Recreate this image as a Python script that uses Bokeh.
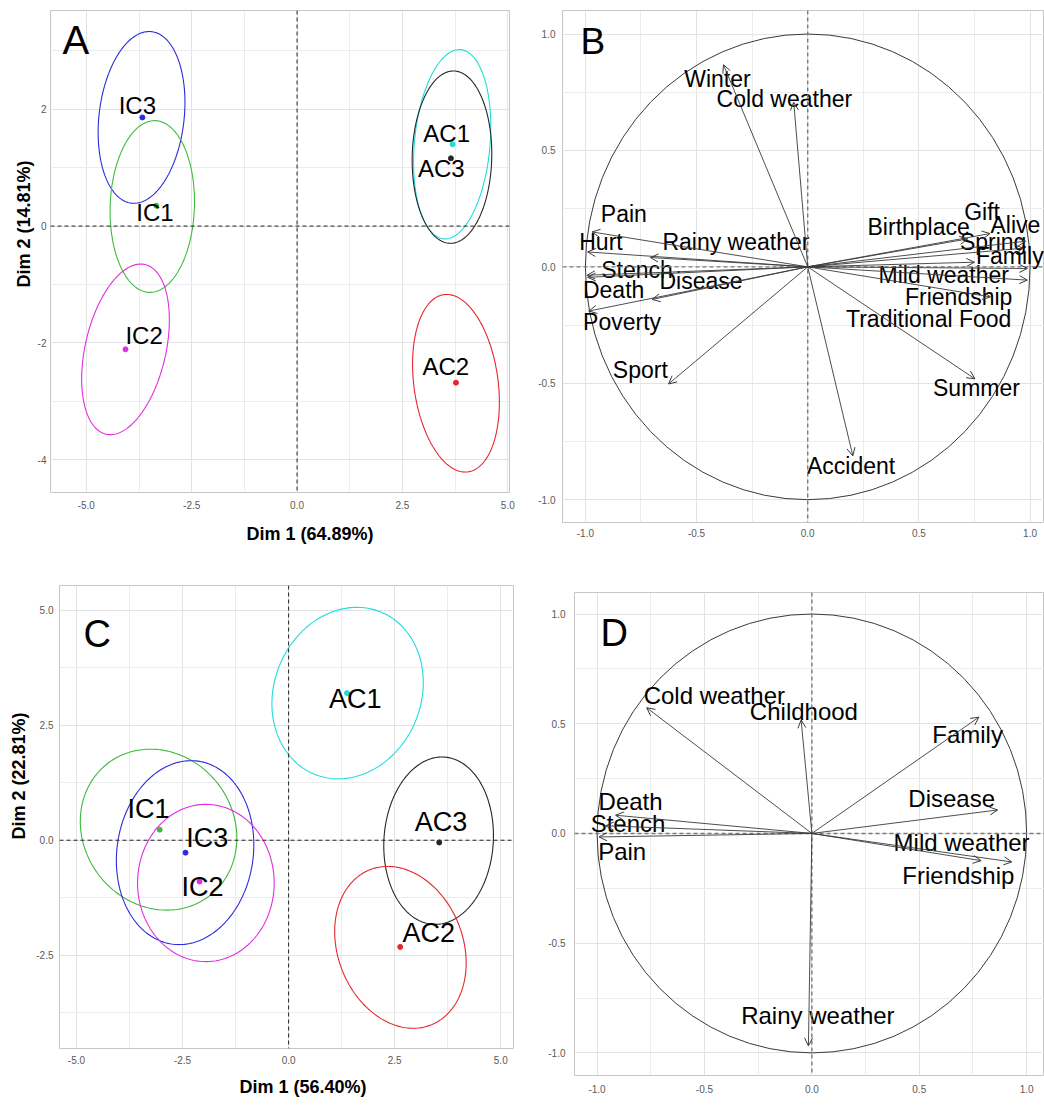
import numpy as np
from bokeh.plotting import figure
from bokeh.layouts import row, column
from bokeh.models import (ColumnDataSource, Span, Label, Title, Arrow, OpenHead,
                          FixedTicker, Range1d)
from bokeh.embed import file_html
from bokeh.resources import INLINE
from bokeh.core.properties import value

# ------------------------------------------------------------------ data
group_colors = {"AC1": "#1FDCDC", "AC2": "#E8262B", "AC3": "#262626",
                "IC1": "#3CBB3C", "IC2": "#E22DE2", "IC3": "#2B2BDD"}

# Panel A: individuals (Dim 1 64.89 %, Dim 2 14.81 %)
a_groups = ["IC3", "IC1", "IC2", "AC1", "AC3", "AC2"]
a_x = [-3.67, -3.34, -4.07, 3.69, 3.65, 3.77]
a_y = [1.86, 0.35, -2.11, 1.40, 1.16, -2.68]
a_label_x = [-3.79, -3.37, -3.63, 3.55, 3.42, 3.53]
a_label_y = [2.07, 0.23, -1.87, 1.58, 0.99, -2.40]
a_ell_cx = [-3.69, -3.435, -4.07, 3.68, 3.675, 3.77]
a_ell_cy = [1.86, 0.335, -2.11, 1.40, 1.18, -2.69]
a_ell_hx = [1.014, 1.0, 0.976, 0.90, 0.944, 1.006]
a_ell_hy = [1.47, 1.47, 1.46, 1.62, 1.475, 1.52]
a_ell_tilt = [0.18, 0.055, 0.36, 0.17, 0.035, -0.22]

# Panel C: individuals (Dim 1 56.40 %, Dim 2 22.81 %)
c_groups = ["AC1", "IC1", "IC3", "IC2", "AC3", "AC2"]
c_x = [1.375, -3.04, -2.43, -2.10, 3.55, 2.63]
c_y = [3.20, 0.23, -0.27, -0.90, -0.05, -2.32]
c_label_x = [1.57, -3.30, -1.92, -2.03, 3.59, 3.30]
c_label_y = [3.08, 0.67, 0.04, -1.01, 0.40, -2.02]
c_ell_cx = [1.39, -3.065, -2.44, -1.95, 3.535, 2.635]
c_ell_cy = [3.20, 0.23, -0.27, -0.93, -0.01, -2.33]
c_ell_hx = [1.77, 1.835, 1.614, 1.61, 1.29, 1.52]
c_ell_hy = [1.865, 1.75, 2.0, 1.71, 1.82, 1.76]
c_ell_tilt = [0.22, -0.19, 0.14, 0.0, 0.08, -0.30]

# Panel B: variables
b_vars = ["Winter", "Cold weather", "Pain", "Hurt", "Rainy weather", "Stench",
          "Death", "Disease", "Poverty", "Sport", "Gift", "Birthplace", "Alive",
          "Spring", "Family", "Mild weather", "Friendship", "Traditional Food",
          "Summer", "Accident"]
b_x = [-0.379, -0.063, -0.97, -0.99, -0.708, -0.993, -0.99, -0.70, -0.985, -0.626,
       0.82, 0.72, 0.98, 0.97, 0.988, 0.988, 0.822, 0.75, 0.752, 0.203]
b_y = [0.868, 0.707, 0.15, 0.064, 0.04, -0.036, -0.045, -0.14, -0.19, -0.503,
       0.143, 0.12, 0.11, 0.08, -0.007, -0.057, -0.129, 0.02, -0.481, -0.812]
b_label_x = [-0.406, -0.105, -0.827, -0.93, -0.323, -0.768, -0.873, -0.48, -0.835,
             -0.753, 0.784, 0.499, 0.934, 0.834, 0.909, 0.612, 0.679, 0.544, 0.759, 0.195]
b_label_y = [0.805, 0.722, 0.226, 0.107, 0.108, -0.015, -0.10, -0.062, -0.238,
             -0.443, 0.235, 0.171, 0.178, 0.107, 0.045, -0.036, -0.129, -0.226,
             -0.519, -0.857]

# Panel D: variables
d_vars = ["Cold weather", "Childhood", "Family", "Disease", "Mild weather",
          "Friendship", "Rainy weather", "Death", "Stench", "Pain"]
d_x = [-0.769, -0.05, 0.778, 0.865, 0.931, 0.788, -0.016, -0.914, -0.96, -0.991]
d_y = [0.573, 0.517, 0.53, 0.107, -0.13, -0.124, -0.968, 0.083, 0.035, -0.016]
d_label_x = [-0.454, -0.037, 0.725, 0.651, 0.697, 0.682, 0.028, -0.844, -0.856, -0.883]
d_label_y = [0.629, 0.557, 0.45, 0.159, -0.04, -0.191, -0.828, 0.146, 0.045, -0.08]

# ticks
ind_x_ticks = [-5.0, -2.5, 0.0, 2.5, 5.0]
ind_x_labels = ["-5.0", "-2.5", "0.0", "2.5", "5.0"]
ind_x_minor = [-3.75, -1.25, 1.25, 3.75]
a_y_ticks = [-4, -2, 0, 2]
a_y_labels = ["-4", "-2", "0", "2"]
a_y_minor = [-3, -1, 1, 3]
c_y_ticks = [-2.5, 0.0, 2.5, 5.0]
c_y_labels = ["-2.5", "0.0", "2.5", "5.0"]
c_y_minor = [-3.75, -1.25, 1.25, 3.75]
var_ticks = [-1.0, -0.5, 0.0, 0.5, 1.0]
var_labels = ["-1.0", "-0.5", "0.0", "0.5", "1.0"]
var_minor = [-0.75, -0.25, 0.25, 0.75]

FONT = "Liberation Sans"


# ------------------------------------------------------------------ helpers
def base_fig(width, height, xr, yr, mb, xt, xl, xm, yt, yl, ym, xstand, ystand):
    p = figure(width=width, height=height, x_range=Range1d(*xr), y_range=Range1d(*yr),
               output_backend="svg", toolbar_location=None, tools="",
               min_border_left=mb[0], min_border_right=mb[1],
               min_border_top=mb[2], min_border_bottom=mb[3])
    p.background_fill_color = "white"
    p.border_fill_color = "white"
    p.outline_line_color = "#C6C6C6"
    p.outline_line_width = 1
    for ax, t, l, m, st in ((p.xaxis[0], xt, xl, xm, xstand), (p.yaxis[0], yt, yl, ym, ystand)):
        ax.ticker = FixedTicker(ticks=t, minor_ticks=m)
        ax.major_label_overrides = dict(zip(t, l))
        ax.axis_line_color = None
        ax.major_tick_line_color = None
        ax.minor_tick_line_color = None
        ax.major_tick_out = 0
        ax.minor_tick_out = 0
        ax.major_label_standoff = st
        ax.major_label_text_font = FONT
        ax.major_label_text_font_size = "10px"
        ax.major_label_text_color = "#5A5A5A"
    for g in (p.xgrid[0], p.ygrid[0]):
        g.grid_line_color = "#E3E3E3"
        g.minor_grid_line_color = "#ECECEC"
    return p


def add_letter(p, txt, x, y, size):
    p.add_layout(Label(x=x, y=y, x_units="screen", y_units="screen", text=txt,
                       text_font=FONT, text_font_size=size, text_color="black",
                       text_baseline="alphabetic", text_align="left"))


def add_titles(p, xt, xoff, xstand, yt, yoff, ystand):
    p.add_layout(Title(text=xt, align="left", offset=xoff, standoff=xstand,
                       text_font=FONT, text_font_size="18px", text_font_style="bold",
                       text_color="black"), "below")
    p.add_layout(Title(text=yt, align="left", offset=yoff, standoff=ystand,
                       text_font=FONT, text_font_size="18px", text_font_style="bold",
                       text_color="black"), "left")


def ind_panel(p, groups, xs, ys, lx, ly, ecx, ecy, ehx, ehy, etilt, fsize):
    t = np.linspace(0, 2 * np.pi, 240)
    exs, eys = [], []
    for cx, cy, hx, hy, s in zip(ecx, ecy, ehx, ehy, etilt):
        exs.append(list(cx + hx * np.cos(t) + s * np.sin(t)))
        eys.append(list(cy + hy * np.sin(t)))
    cols = [group_colors[g] for g in groups]
    p.multi_line(xs="xs", ys="ys", line_color="c", line_width=1.1,
                 source=ColumnDataSource(dict(xs=exs, ys=eys, c=cols)))
    p.add_layout(Span(location=0, dimension="height", line_color="#222222",
                      line_dash="4 3", line_width=1))
    p.add_layout(Span(location=0, dimension="width", line_color="#222222",
                      line_dash="4 3", line_width=1))
    src = ColumnDataSource(dict(x=xs, y=ys, lx=lx, ly=ly, g=groups, c=cols))
    p.scatter(x="x", y="y", size=5, fill_color="c", line_color="c", source=src)
    p.text(x="lx", y="ly", text="g", source=src, text_font=value(FONT),
           text_font_size=value(fsize), text_align="center", text_baseline="middle",
           text_color="black")


def var_panel(p, names, xs, ys, lx, ly, fsize):
    p.ellipse(x=[0.0], y=[0.0], width=[2.0], height=[2.0], fill_color=None,
              line_color="#3A3A3A", line_width=1)
    p.add_layout(Span(location=0, dimension="height", line_color="#7A7A7A",
                      line_dash="4 3", line_width=1.4))
    p.add_layout(Span(location=0, dimension="width", line_color="#7A7A7A",
                      line_dash="4 3", line_width=1.4))
    n = len(names)
    asrc = ColumnDataSource(dict(x0=[0.0] * n, y0=[0.0] * n, x1=xs, y1=ys))
    p.add_layout(Arrow(end=OpenHead(size=8, line_color="#3A3A3A", line_width=1),
                       x_start="x0", y_start="y0", x_end="x1", y_end="y1",
                       line_color="#3A3A3A", line_width=0.9, source=asrc))
    tsrc = ColumnDataSource(dict(lx=lx, ly=ly, t=names))
    p.text(x="lx", y="ly", text="t", source=tsrc, text_font=value(FONT),
           text_font_size=value(fsize), text_align="center", text_baseline="middle",
           text_color="black")


# ------------------------------------------------------------------ panels
pA = base_fig(520, 556, (-5.85, 5.04), (-4.56, 3.69), (50, 11, 10, 64),
              ind_x_ticks, ind_x_labels, ind_x_minor, a_y_ticks, a_y_labels, a_y_minor, 8, 4)
ind_panel(pA, a_groups, a_x, a_y, a_label_x, a_label_y,
          a_ell_cx, a_ell_cy, a_ell_hx, a_ell_hy, a_ell_tilt, "24px")
add_letter(pA, "A", 12, 453, "40px")
add_titles(pA, "Dim 1 (64.89%)", 196, 20, "Dim 2 (14.81%)", 205, 2)

pB = base_fig(524, 556, (-1.103, 1.065), (-1.098, 1.101), (42, 0, 10, 34),
              var_ticks, var_labels, var_minor, var_ticks, var_labels, var_minor, 6, 7)
var_panel(pB, b_vars, b_x, b_y, b_label_x, b_label_y, "23px")
add_letter(pB, "B", 18, 481, "37px")

pC = base_fig(520, 552, (-5.40, 5.30), (-4.53, 5.54), (59, 7, 29, 60),
              ind_x_ticks, ind_x_labels, ind_x_minor, c_y_ticks, c_y_labels, c_y_minor, 7, 6)
ind_panel(pC, c_groups, c_x, c_y, c_label_x, c_label_y,
          c_ell_cx, c_ell_cy, c_ell_hx, c_ell_hy, c_ell_tilt, "27px")
add_letter(pC, "C", 24, 415, "38px")
add_titles(pC, "Dim 1 (56.40%)", 180, 17, "Dim 2 (22.81%)", 209, 10)

pD = base_fig(524, 552, (-1.105, 1.083), (-1.103, 1.098), (54, 0, 36, 33),
              var_ticks, var_labels, var_minor, var_ticks, var_labels, var_minor, 9, 9)
var_panel(pD, d_vars, d_x, d_y, d_label_x, d_label_y, "24px")
add_letter(pD, "D", 26, 443, "38px")

layout = column(row(column(pA), column(pB)), row(column(pC), column(pD)))
open("out.html", "w").write(file_html(layout, INLINE))
